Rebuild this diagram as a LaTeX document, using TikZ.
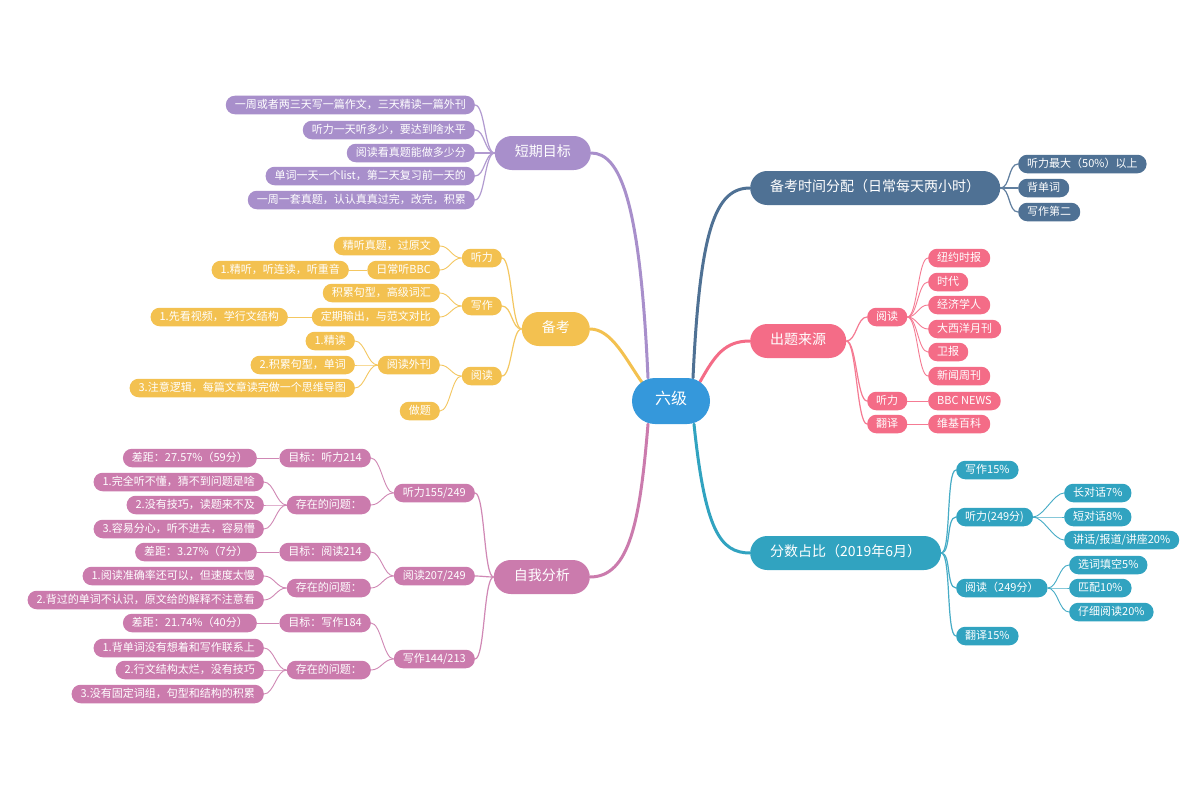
\documentclass[tikz,border=0pt]{standalone}
\usepackage{fontspec}
\newfontfamily\cjk{Noto Sans CJK SC}
\usetikzlibrary{backgrounds}
\definecolor{cRoot}{RGB}{53,152,219}
\definecolor{cPur}{RGB}{168,143,203}
\definecolor{cYel}{RGB}{243,193,80}
\definecolor{cPnk}{RGB}{203,123,173}
\definecolor{cSla}{RGB}{79,113,148}
\definecolor{cRed}{RGB}{244,108,135}
\definecolor{cTea}{RGB}{49,163,192}
\tikzset{
 rootnode/.style={fill=cRoot, text=white, font=\cjk\fontsize{16}{16}\selectfont, minimum height=46pt, inner xsep=23pt, inner ysep=0pt, rounded corners=23pt, text height=0.8em, text depth=0.08em},
 mainnode/.style={fill=#1, text=white, font=\cjk\fontsize{14}{14}\selectfont, minimum height=34pt, inner xsep=20pt, inner ysep=0pt, rounded corners=17pt, text height=0.8em, text depth=0.08em},
 leaf/.style={fill=#1, text=white, font=\cjk\fontsize{11}{11}\selectfont, minimum height=18.5pt, inner xsep=9pt, inner ysep=0pt, rounded corners=9pt, text height=0.8em, text depth=0.08em},
 lleaf/.style={leaf=#1, anchor=east},
 rleaf/.style={leaf=#1, anchor=west},
 trunk/.style={draw=#1, line width=3pt, line cap=round},
 twig/.style={draw=#1!90!white, line width=1.2pt},
 fine/.style={draw=#1!90!white, line width=0.9pt},
 lk/.style={out=180, in=0, max distance=10pt},
 rk/.style={out=0, in=180, max distance=10pt},
}
\begin{document}
\begin{tikzpicture}[x=1pt,y=1pt]
\useasboundingbox (0,0) rectangle (1200,-800);
% root
\node[rootnode] (root) at (671,-401) {六级};
% main nodes
\node[mainnode=cPur, anchor=east] (dq) at (591,-153) {短期目标};
\node[mainnode=cYel, anchor=east] (bk) at (590,-329) {备考};
\node[mainnode=cPnk, anchor=east] (zw) at (590,-577) {自我分析};
\node[mainnode=cSla, anchor=west] (sj) at (750,-188) {备考时间分配（日常每天两小时）};
\node[mainnode=cRed, anchor=west] (ct) at (750,-341) {出题来源};
\node[mainnode=cTea, anchor=west] (fs) at (750,-553) {分数占比（2019年6月）};
% short-term goals
\node[lleaf=cPur] (dq1) at (475,-105) {一周或者两三天写一篇作文，三天精读一篇外刊};
\node[lleaf=cPur] (dq2) at (475,-130) {听力一天听多少，要达到啥水平};
\node[lleaf=cPur] (dq3) at (475,-153) {阅读看真题能做多少分};
\node[lleaf=cPur] (dq4) at (475,-176) {单词一天一个list，第二天复习前一天的};
\node[lleaf=cPur] (dq5) at (475,-200) {一周一套真题，认认真真过完，改完，积累};
% preparation
\node[lleaf=cYel] (bkT) at (502,-258) {听力};
\node[lleaf=cYel] (bkW) at (502,-306) {写作};
\node[lleaf=cYel] (bkR) at (502,-376) {阅读};
\node[lleaf=cYel] (bkT1) at (440,-246) {精听真题，过原文};
\node[lleaf=cYel] (bkT2) at (440,-270) {日常听BBC};
\node[lleaf=cYel] (bkT2a) at (349,-270) {1.精听，听连读，听重音};
\node[lleaf=cYel] (bkW1) at (440,-293) {积累句型，高级词汇};
\node[lleaf=cYel] (bkW2) at (440,-317) {定期输出，与范文对比};
\node[lleaf=cYel] (bkW2a) at (288,-317) {1.先看视频，学行文结构};
\node[lleaf=cYel] (bkR1) at (440,-365) {阅读外刊};
\node[lleaf=cYel] (bkR1a) at (355,-341) {1.精读};
\node[lleaf=cYel] (bkR1b) at (355,-365) {2.积累句型，单词};
\node[lleaf=cYel] (bkR1c) at (355,-388) {3.注意逻辑，每篇文章读完做一个思维导图};
\node[lleaf=cYel] (bkR2) at (440,-411) {做题};
% self analysis
\node[lleaf=cPnk] (zwT) at (475,-493) {听力155/249};
\node[lleaf=cPnk] (zwR) at (475,-576) {阅读207/249};
\node[lleaf=cPnk] (zwW) at (475,-659) {写作144/213};
\node[lleaf=cPnk] (zwT1) at (371,-458) {目标：听力214};
\node[lleaf=cPnk] (zwT1a) at (257,-458) {差距：27.57\%（59分）};
\node[lleaf=cPnk] (zwT2) at (371,-505) {存在的问题：};
\node[lleaf=cPnk] (zwT2a) at (264,-482) {1.完全听不懂，猜不到问题是啥};
\node[lleaf=cPnk] (zwT2b) at (264,-505) {2.没有技巧，读题来不及};
\node[lleaf=cPnk] (zwT2c) at (264,-529) {3.容易分心，听不进去，容易懵};
\node[lleaf=cPnk] (zwR1) at (371,-552) {目标：阅读214};
\node[lleaf=cPnk] (zwR1a) at (257,-552) {差距：3.27\%（7分）};
\node[lleaf=cPnk] (zwR2) at (371,-588) {存在的问题：};
\node[lleaf=cPnk] (zwR2a) at (264,-576) {1.阅读准确率还可以，但速度太慢};
\node[lleaf=cPnk] (zwR2b) at (264,-600) {2.背过的单词不认识，原文给的解释不注意看};
\node[lleaf=cPnk] (zwW1) at (371,-623) {目标：写作184};
\node[lleaf=cPnk] (zwW1a) at (257,-623) {差距：21.74\%（40分）};
\node[lleaf=cPnk] (zwW2) at (371,-670) {存在的问题：};
\node[lleaf=cPnk] (zwW2a) at (264,-648) {1.背单词没有想着和写作联系上};
\node[lleaf=cPnk] (zwW2b) at (264,-670) {2.行文结构太烂，没有技巧};
\node[lleaf=cPnk] (zwW2c) at (264,-694) {3.没有固定词组，句型和结构的积累};
% time allocation
\node[rleaf=cSla] (sj1) at (1018,-164) {听力最大（50\%）以上};
\node[rleaf=cSla] (sj2) at (1018,-188) {背单词};
\node[rleaf=cSla] (sj3) at (1018,-212) {写作第二};
% sources
\node[rleaf=cRed] (ctR) at (867,-317) {阅读};
\node[rleaf=cRed] (ctT) at (867,-401) {听力};
\node[rleaf=cRed] (ctF) at (867,-424) {翻译};
\node[rleaf=cRed] (ctR1) at (928,-258) {纽约时报};
\node[rleaf=cRed] (ctR2) at (928,-282) {时代};
\node[rleaf=cRed] (ctR3) at (928,-305) {经济学人};
\node[rleaf=cRed] (ctR4) at (928,-329) {大西洋月刊};
\node[rleaf=cRed] (ctR5) at (928,-352) {卫报};
\node[rleaf=cRed] (ctR6) at (928,-376) {新闻周刊};
\node[rleaf=cRed] (ctT1) at (928,-401) {BBC NEWS};
\node[rleaf=cRed] (ctF1) at (928,-424) {维基百科};
% score share
\node[rleaf=cTea] (fsW) at (956,-470) {写作15\%};
\node[rleaf=cTea] (fsT) at (956,-517) {听力(249分)};
\node[rleaf=cTea] (fsR) at (956,-588) {阅读（249分）};
\node[rleaf=cTea] (fsF) at (956,-636) {翻译15\%};
\node[rleaf=cTea] (fsT1) at (1064,-493) {长对话7\%};
\node[rleaf=cTea] (fsT2) at (1064,-517) {短对话8\%};
\node[rleaf=cTea] (fsT3) at (1064,-540) {讲话/报道/讲座20\%};
\node[rleaf=cTea] (fsR1) at (1069,-565) {选词填空5\%};
\node[rleaf=cTea] (fsR2) at (1069,-588) {匹配10\%};
\node[rleaf=cTea] (fsR3) at (1069,-612) {仔细阅读20\%};

\begin{scope}[on background layer]
\fill[white] (0,0) rectangle (1200,-800);
% trunks
\draw[trunk=cPur] ([xshift=-23pt]root.north) .. controls (640,-200) and (620,-153) .. (dq.east);
\draw[trunk=cYel] ([xshift=-28pt,yshift=-6pt]root.north) .. controls (626,-360) and (612,-329) .. (bk.east);
\draw[trunk=cPnk] ([xshift=-23pt]root.south) .. controls (640,-520) and (630,-577) .. (zw.east);
\draw[trunk=cSla] ([xshift=22pt]root.north) .. controls (700,-230) and (715,-188) .. (sj.west);
\draw[trunk=cRed] ([xshift=29pt,yshift=-4pt]root.north) .. controls (715,-355) and (725,-341) .. (ct.west);
\draw[trunk=cTea] ([xshift=23pt]root.south) .. controls (705,-530) and (720,-553) .. (fs.west);
% level 2
\foreach \c in {dq1,dq2,dq3,dq4,dq5} \draw[twig=cPur] (dq.west) to[lk] (\c.east);
\foreach \c in {bkT,bkW,bkR} \draw[twig=cYel] (bk.west) to[lk] (\c.east);
\foreach \c in {zwT,zwR,zwW} \draw[twig=cPnk] (zw.west) to[lk] (\c.east);
\foreach \c in {sj1,sj2,sj3} \draw[twig=cSla] (sj.east) to[rk] (\c.west);
\foreach \c in {ctR,ctT,ctF} \draw[twig=cRed] (ct.east) to[rk] (\c.west);
\foreach \c in {fsW,fsT,fsR,fsF} \draw[twig=cTea] (fs.east) to[rk] (\c.west);
% level 3+
\foreach \c in {bkT1,bkT2} \draw[fine=cYel] (bkT.west) to[lk] (\c.east);
\draw[fine=cYel] (bkT2.west) -- (bkT2a.east);
\foreach \c in {bkW1,bkW2} \draw[fine=cYel] (bkW.west) to[lk] (\c.east);
\draw[fine=cYel] (bkW2.west) -- (bkW2a.east);
\foreach \c in {bkR1,bkR2} \draw[fine=cYel] (bkR.west) to[lk] (\c.east);
\foreach \c in {bkR1a,bkR1b,bkR1c} \draw[fine=cYel] (bkR1.west) to[lk] (\c.east);
\foreach \c in {zwT1,zwT2} \draw[fine=cPnk] (zwT.west) to[lk] (\c.east);
\draw[fine=cPnk] (zwT1.west) -- (zwT1a.east);
\foreach \c in {zwT2a,zwT2b,zwT2c} \draw[fine=cPnk] (zwT2.west) to[lk] (\c.east);
\foreach \c in {zwR1,zwR2} \draw[fine=cPnk] (zwR.west) to[lk] (\c.east);
\draw[fine=cPnk] (zwR1.west) -- (zwR1a.east);
\foreach \c in {zwR2a,zwR2b} \draw[fine=cPnk] (zwR2.west) to[lk] (\c.east);
\foreach \c in {zwW1,zwW2} \draw[fine=cPnk] (zwW.west) to[lk] (\c.east);
\draw[fine=cPnk] (zwW1.west) -- (zwW1a.east);
\foreach \c in {zwW2a,zwW2b,zwW2c} \draw[fine=cPnk] (zwW2.west) to[lk] (\c.east);
\foreach \c in {ctR1,ctR2,ctR3,ctR4,ctR5,ctR6} \draw[fine=cRed] (ctR.east) to[rk] (\c.west);
\draw[fine=cRed] (ctT.east) -- (ctT1.west);
\draw[fine=cRed] (ctF.east) -- (ctF1.west);
\foreach \c in {fsT1,fsT2,fsT3} \draw[fine=cTea] (fsT.east) to[rk] (\c.west);
\foreach \c in {fsR1,fsR2,fsR3} \draw[fine=cTea] (fsR.east) to[rk] (\c.west);
\end{scope}
\end{tikzpicture}
\end{document}
